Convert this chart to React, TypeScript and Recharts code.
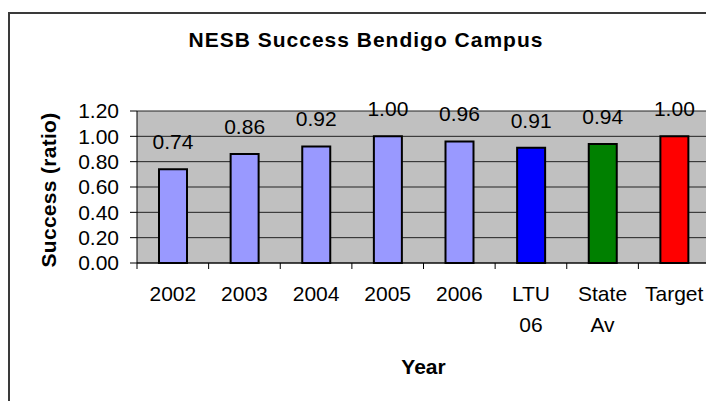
import React from 'react';
import { BarChart, Bar, XAxis, YAxis, CartesianGrid, Cell, LabelList } from 'recharts';

const categories = ['2002', '2003', '2004', '2005', '2006', 'LTU 06', 'State Av', 'Target'];
const successValues = [0.74, 0.86, 0.92, 1.0, 0.96, 0.91, 0.94, 1.0];
const barColors = ['#9999FF', '#9999FF', '#9999FF', '#9999FF', '#9999FF', '#0000FF', '#008000', '#FF0000'];
const yTicks = [0, 0.2, 0.4, 0.6, 0.8, 1.0, 1.2];
const chartTitle = 'NESB Success Bendigo Campus';
const yTitle = 'Success (ratio)';
const xTitle = 'Year';

const data = categories.map((c, i) => ({ name: c, value: successValues[i] }));

const W = 706;
const H = 393;
const MARGIN = { top: 103, right: 4, left: 0, bottom: 0 };
const YAXIS_W = 129;
const BAND = (W - MARGIN.right - MARGIN.left - YAXIS_W) / categories.length;
const FONT = '"Liberation Sans", Arial, sans-serif';

const XTick = (props: any) => {
  const { x, y, payload, index } = props;
  const lines = String(payload.value).split(' ');
  const last = index === categories.length - 1;
  return (
    <g>
      <line x1={x - BAND / 2} x2={x - BAND / 2} y1={y} y2={y + 6} stroke="#000" strokeWidth={1} />
      {last && <line x1={x + BAND / 2} x2={x + BAND / 2} y1={y} y2={y + 6} stroke="#000" strokeWidth={1} />}
      <text x={x} y={y + 38} textAnchor="middle" fontSize={21} fill="#000" fontFamily={FONT}>
        {lines.map((l, i) => (
          <tspan key={i} x={x} dy={i === 0 ? 0 : 31}>{l}</tspan>
        ))}
      </text>
    </g>
  );
};

export default function App() {
  return (
    <div style={{ position: 'relative', width: W, height: H, overflow: 'hidden', fontFamily: FONT }}>
      <div
        style={{
          position: 'absolute',
          left: 0,
          top: 4,
          width: 900,
          height: 900,
          borderTop: '2px solid #3a3a3a',
          borderLeft: '2px solid #3a3a3a',
        }}
      />
      <BarChart
        width={W}
        height={H}
        data={data}
        margin={MARGIN}
        style={{ position: 'absolute', left: 0, top: 0 }}
      >
        <text x={358} y={38.7} textAnchor="middle" fontSize={21} fontWeight="bold" letterSpacing={1} fill="#000" fontFamily={FONT}>
          {chartTitle}
        </text>
        <CartesianGrid vertical={false} stroke="#222" fill="#C0C0C0" fillOpacity={1} />
        <XAxis
          dataKey="name"
          height={138}
          interval={0}
          tickLine={false}
          tickSize={0}
          tickMargin={0}
          axisLine={{ stroke: '#000' }}
          tick={<XTick />}
          label={{
            content: (p: any) => {
              const vb = p.viewBox;
              return (
                <text x={vb.x + vb.width / 2} y={vb.y + 111} textAnchor="middle" fontSize={21} fontWeight="bold" fill="#000" fontFamily={FONT}>
                  {xTitle}
                </text>
              );
            },
          }}
        />
        <YAxis
          width={YAXIS_W}
          domain={[0, 1.2]}
          ticks={yTicks}
          interval={0}
          tickSize={7}
          tickMargin={11}
          tickLine={{ stroke: '#000' }}
          axisLine={{ stroke: '#000' }}
          tick={{ fontSize: 21, fill: '#000', fontFamily: FONT }}
          tickFormatter={(v: number) => v.toFixed(2)}
          label={{
            content: (p: any) => {
              const vb = p.viewBox;
              const cx = 48;
              const cy = vb.y + vb.height / 2 + 3;
              return (
                <text
                  x={cx}
                  y={cy}
                  transform={`rotate(-90 ${cx} ${cy})`}
                  textAnchor="middle"
                  fontSize={21}
                  fontWeight="bold"
                  letterSpacing={0.3}
                  fill="#000"
                  fontFamily={FONT}
                >
                  {yTitle}
                </text>
              );
            },
          }}
        />
        <YAxis
          yAxisId="r"
          orientation="right"
          width={0}
          domain={[0, 1.2]}
          tick={false}
          tickLine={false}
          axisLine={{ stroke: '#808080' }}
        />
        <Bar dataKey="value" barSize={28} stroke="#000" strokeWidth={2} isAnimationActive={false}>
          {data.map((d, i) => (
            <Cell key={d.name} fill={barColors[i]} />
          ))}
          <LabelList
            dataKey="value"
            position="top"
            offset={20}
            formatter={(v: any) => Number(v).toFixed(2)}
            fill="#000"
            fontSize={21}
            fontFamily={FONT}
          />
        </Bar>
      </BarChart>
    </div>
  );
}
